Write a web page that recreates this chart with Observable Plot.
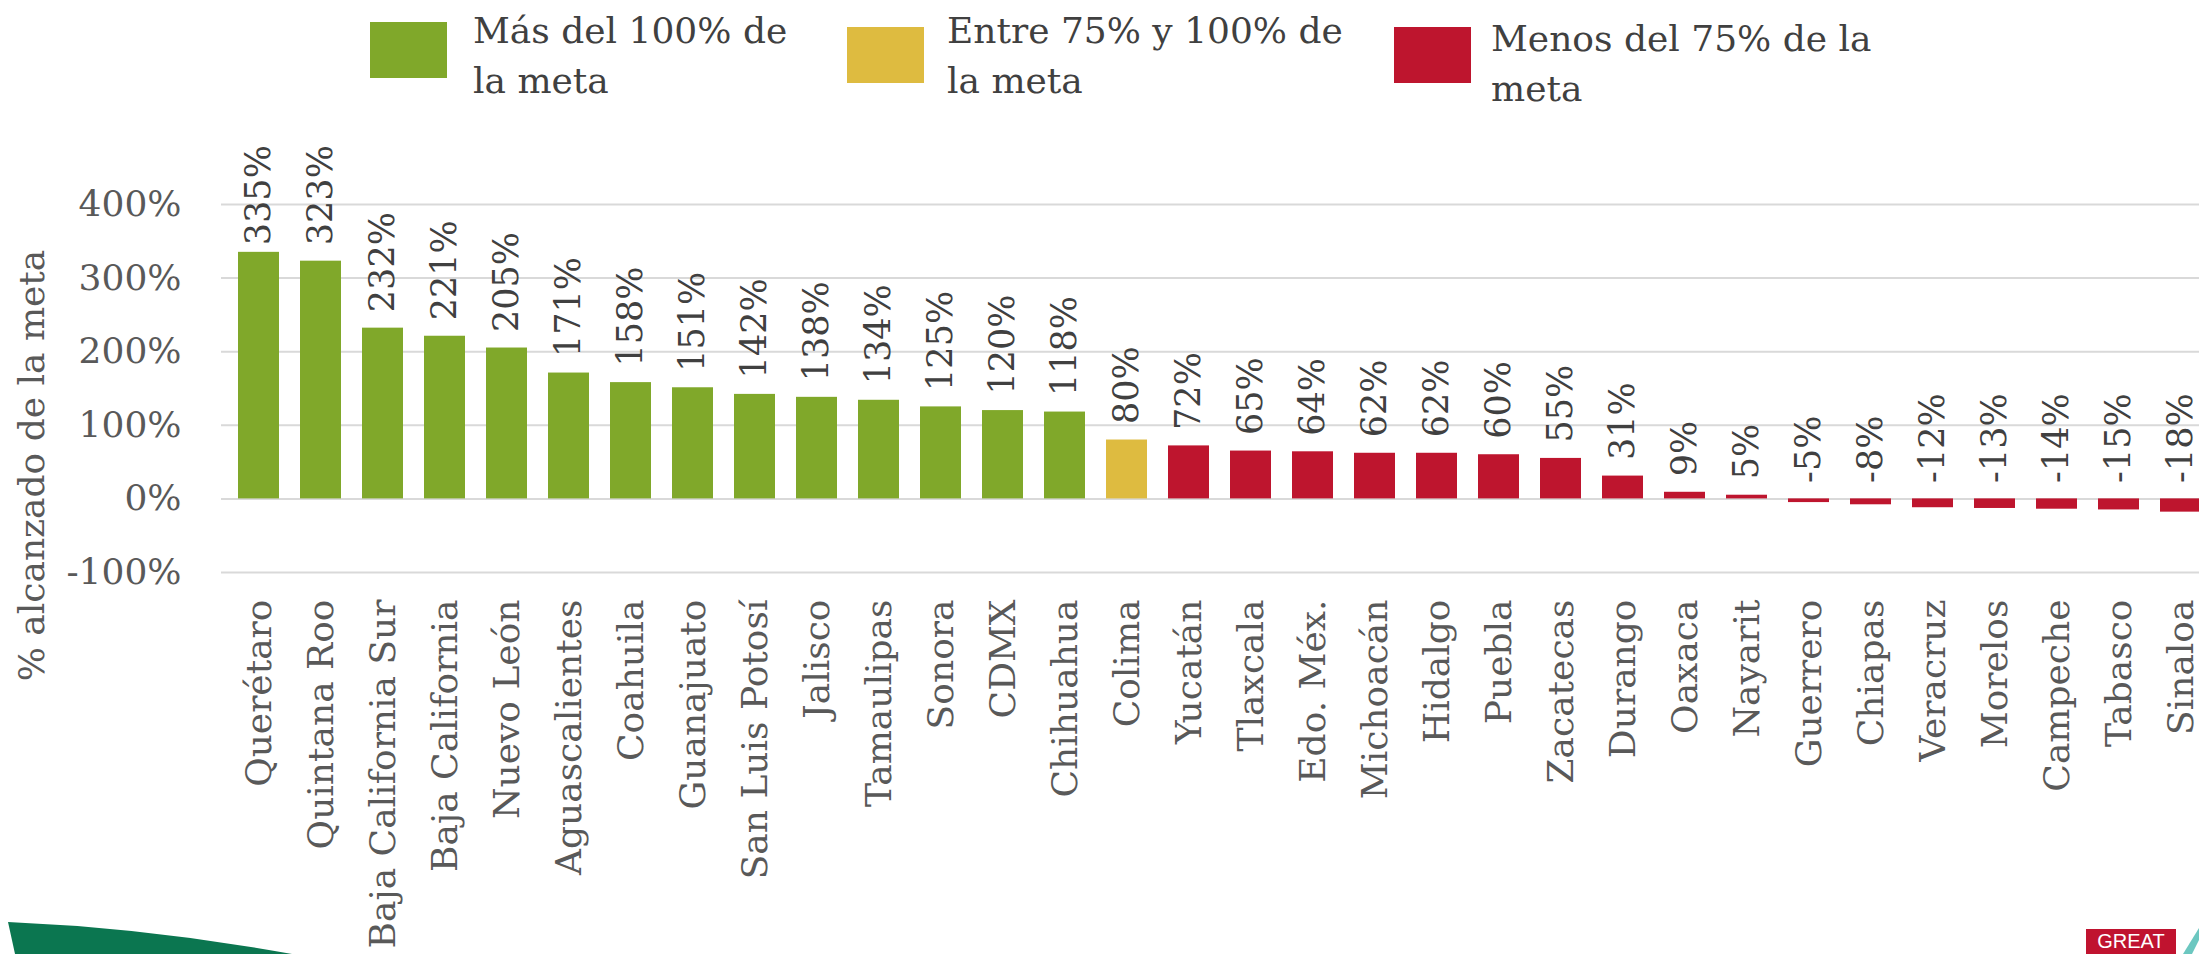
<!DOCTYPE html>
<html>
<head>
<meta charset="utf-8">
<script src="https://cdn.jsdelivr.net/npm/d3@7"></script>
<script src="https://cdn.jsdelivr.net/npm/@observablehq/plot@0.6"></script>
<style>
  html, body { margin: 0; padding: 0; background: #fff; overflow: hidden; width: 2199px; height: 954px; }
  #wrap { position: relative; width: 2199px; height: 954px; overflow: hidden; }
  #chart { position: absolute; left: 0; top: 0; width: 2230px; }
  #chart svg { max-width: none !important; }
  .lg-sw { position: absolute; width: 77px; height: 56px; }
  .lg-tx { position: absolute; font-family: "DejaVu Serif", serif; font-size: 36px; line-height: 50px; color: #404040; white-space: nowrap; }
  #swoosh { position: absolute; left: 0; top: 0; }
  #great { position: absolute; left: 2086px; top: 929px; width: 90px; height: 25px; background: #c0132f; color: #fff;
           font-family: "Liberation Sans", Arial, sans-serif; font-size: 20px; line-height: 25px; text-align: center; overflow: hidden; }
</style>
</head>
<body>
<div id="wrap">
  <div id="chart"></div>
  <div class="lg-sw" style="left:370px;top:22px;background:#80a82a"></div>
  <div class="lg-tx" style="left:473px;top:6px">Más del 100% de<br>la meta</div>
  <div class="lg-sw" style="left:847px;top:27px;background:#debb40"></div>
  <div class="lg-tx" style="left:947px;top:6px">Entre 75% y 100% de<br>la meta</div>
  <div class="lg-sw" style="left:1394px;top:27px;background:#be152e"></div>
  <div class="lg-tx" style="left:1491px;top:14px">Menos del 75% de la<br>meta</div>
  <svg id="swoosh" width="2199" height="954">
    <path d="M8,922 Q150,928 292,954 L15,954 Z" fill="#0b7650"/>
    <path d="M2183,954 L2199,928 L2199,940 L2192,954 Z" fill="#6cc7c0"/>
  </svg>
  <div id="great">GREAT</div>
</div>
<script>
const states = ["Querétaro","Quintana Roo","Baja California Sur","Baja California","Nuevo León","Aguascalientes","Coahuila","Guanajuato","San Luis Potosí","Jalisco","Tamaulipas","Sonora","CDMX","Chihuahua","Colima","Yucatán","Tlaxcala","Edo. Méx.","Michoacán","Hidalgo","Puebla","Zacatecas","Durango","Oaxaca","Nayarit","Guerrero","Chiapas","Veracruz","Morelos","Campeche","Tabasco","Sinaloa"];
const values = [335,323,232,221,205,171,158,151,142,138,134,125,120,118,80,72,65,64,62,62,60,55,31,9,5,-5,-8,-12,-13,-14,-15,-18];
const yTicks = [-100,0,100,200,300,400];
const groups = ["Más del 100% de la meta","Entre 75% y 100% de la meta","Menos del 75% de la meta"];
const groupColors = ["#80a82a","#debb40","#be152e"];
const yTitle = "% alcanzado de la meta";

const groupOf = v => v >= 100 ? groups[0] : v >= 75 ? groups[1] : groups[2];
const data = states.map((s, i) => ({state: s, value: values[i], group: groupOf(values[i])}));
const labelCap = 323; // Excel keeps the tallest labels inside the plot area

const chart = Plot.plot({
  width: 2230,
  height: 954,
  marginLeft: 221,
  marginRight: 13,
  marginTop: 204,
  marginBottom: 382,
  style: {fontFamily: "DejaVu Serif, serif", fontSize: "36px", color: "#595959", background: "transparent", maxWidth: "none"},
  x: {domain: states, paddingInner: 0.34, paddingOuter: 0.17},
  y: {domain: [-100, 400]},
  color: {domain: groups, range: groupColors},
  marks: [
    Plot.gridY(yTicks, {stroke: "#d9d9d9", strokeOpacity: 1, strokeWidth: 2}),
    Plot.axisY({ticks: yTicks, tickFormat: d => d + "%", tickSize: 0, tickPadding: 40, label: null, fontSize: 36, fill: "#595959"}),
    Plot.axisX({tickRotate: -90, tickSize: 0, tickPadding: 27, label: null, fontSize: 36, fill: "#595959"}),
    Plot.barY(data, {x: "state", y: "value", fill: "group"}),
    Plot.text(data, {
      x: "state",
      y: d => Math.min(Math.max(d.value, 0), labelCap),
      text: d => d.value + "%",
      rotate: -90, textAnchor: "start", lineAnchor: "middle",
      dy: -16, fontSize: 35, fill: "#404040"
    }),
    Plot.text([yTitle], {frameAnchor: "left", rotate: -90, dx: -189, dy: 77, fontSize: 36, fill: "#595959", textAnchor: "middle", lineAnchor: "middle"})
  ]
});
document.getElementById("chart").appendChild(chart);
</script>
</body>
</html>
